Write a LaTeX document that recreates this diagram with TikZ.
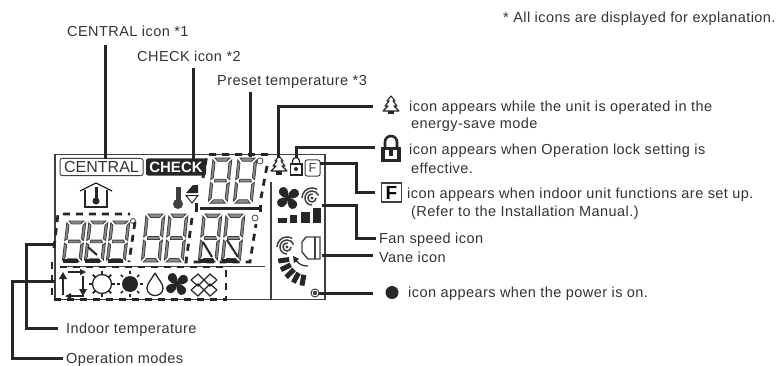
\documentclass[tikz,border=0pt]{standalone}
\usepackage{fontspec}
\setmainfont{Liberation Sans}
\newfontfamily\labfont[LetterSpace=3]{Liberation Sans}
\usetikzlibrary{calc}
\definecolor{Ink}{HTML}{262626}
\definecolor{Seg}{HTML}{404040}
\definecolor{Txt}{HTML}{333333}
\tikzset{
    x=1pt, y=-1pt,
    lab/.style={anchor=base west, inner sep=0pt, text=Txt, font=\labfont\fontsize{14.5}{16}\selectfont},
    conn/.style={line width=3pt, color=Ink, line cap=butt, line join=miter},
    lcdframe/.style={line width=1.3pt, color=Seg},
    lcddash/.style={line width=2.8pt, color=Ink, dash pattern=on 7pt off 6pt},
    icon/.style={line width=1pt, color=Ink},
    segdigit/.pic={
        \begin{scope}[xslant=0.1, draw=Seg, fill=Seg!60, line width=0.8pt]
            \filldraw (3,0) -- (18,0) -- (15,3.5) -- (6,3.5) -- cycle;
            \filldraw (5,22.5) -- (16,22.5) -- (17,25.5) -- (5,25.5) -- cycle;
            \filldraw (1,2) -- (3.5,5) -- (3.5,21) -- (1,23) -- cycle;
            \filldraw (20,2) -- (17.5,5) -- (17.5,21) -- (20,23) -- cycle;
            \filldraw (1,26) -- (3.5,28) -- (3.5,43) -- (1,46) -- cycle;
            \filldraw (20,26) -- (17.5,28) -- (17.5,43) -- (20,46) -- cycle;
            \filldraw (6,44.5) -- (15,44.5) -- (18,48) -- (3,48) -- cycle;
        \end{scope}
    },
    fanicon/.pic={
        \foreach \r in {30,120,210,300} {
            \fill[Ink, rotate=\r] (0,0) .. controls (-7,-4) and (-7,-12) .. (-1,-12.5) .. controls (5,-12.5) and (5,-5) .. (0,0);
        }
    },
    swirlicon/.pic={
        \fill[Seg] (0,0) circle[radius=1.6];
        \draw[line width=1.5pt, color=Seg] (4,0) arc[start angle=0, end angle=280, radius=4];
        \draw[line width=1.5pt, color=Seg] (0,7) arc[start angle=90, end angle=340, radius=7];
        \draw[line width=1.5pt, color=Seg] (-10,0) arc[start angle=180, end angle=300, radius=10];
    },
    treeicon/.pic={
        \draw[line width=1.1pt, color=Ink, line join=round] (0,-9) -- (4,-4) -- (2,-4) -- (6,1) -- (3,1) -- (8,6) -- (-8,6) -- (-3,1) -- (-6,1) -- (-2,-4) -- (-4,-4) -- cycle;
        \fill[Ink] (-3,6) rectangle (3,9.5);
    },
}
\begin{document}
\begin{tikzpicture}
    \useasboundingbox (0,0) rectangle (778,366);
    % labels
    \node[lab] (noteAll) at (503,23) {* All icons are displayed for explanation.};
    \node[lab] (centralLab) at (67,37) {CENTRAL icon *1};
    \node[lab] (checkLab) at (137,62) {CHECK icon *2};
    \node[lab] (presetLab) at (217,86) {Preset temperature *3};
    \node[lab] (treeLab) at (409,112) {icon appears while the unit is operated in the};
    \node[lab] (treeLabB) at (411,129) {energy-save mode};
    \node[lab] (lockLab) at (409,154) {icon appears when Operation lock setting is};
    \node[lab] (lockLabB) at (411,173) {effective.};
    \node[lab] (fLab) at (407,198) {icon appears when indoor unit functions are set up.};
    \node[lab] (fLabB) at (411,216) {(Refer to the Installation Manual.)};
    \node[lab] (fanLab) at (379,243) {Fan speed icon};
    \node[lab] (vaneLab) at (379,262) {Vane icon};
    \node[lab] (powerLab) at (408,297) {icon appears when the power is on.};
    \node[lab] (indoorLab) at (66,333) {Indoor temperature};
    \node[lab] (modesLab) at (66,363) {Operation modes};

    % lcd frame
    \draw[lcdframe] (55,154.5) rectangle (325,299.5);
    \draw[line width=1.8pt, color=Seg] (271,182) -- (271,299);
    \draw[line width=1pt, color=Seg] (60,266) -- (265,266);

    % CENTRAL, CHECK
    \node[draw=Seg, line width=1pt, rounded corners=2pt, minimum width=83pt, minimum height=17pt, inner sep=0pt, text=Txt, font=\fontsize{16}{16}\selectfont] (centralBox) at (101.5,167) {CENTRAL};
    \node[fill=Ink, rounded corners=2pt, minimum width=60pt, minimum height=17pt, inner sep=0pt, text=white, font=\bfseries\fontsize{15}{15}\selectfont] (checkBox) at (176,167) {CHECK};

    % digits
    \foreach \dx in {212,237} {
        \pic[yscale=0.94] at (\dx,158) {segdigit};
    }
    \foreach \dx in {66,88,110} {
        \pic[yscale=0.85] at (\dx,221) {segdigit};
    }
    \foreach \dx in {145,168,202,225} {
        \pic at (\dx,214) {segdigit};
    }
    \foreach \dx in {63,85,108,199,222} {
        \fill[Ink] (\dx,258.5) rectangle ++(15,4);
    }
    \draw[Ink, line width=2pt] (88,247) -- (97,255) (203,242) -- (212,257) (227,240) -- (238,257);
    \draw[conn] (200,208) -- (260,208) (260,205) -- (260,212);
    \draw[color=Seg, line width=0.8pt] (260,161) circle[radius=3];
    \draw[color=Seg, line width=0.8pt] (133,221) circle[radius=2.5];
    \draw[color=Seg, line width=0.8pt] (255,218) circle[radius=3];

    % dashed groups
    \draw[lcddash] (203,178) -- (207,154.5) -- (268,154.5);
    \draw[lcddash] (267,166) -- (261,198);
    \draw[lcddash] (54,248) -- (58,214) -- (130,214);
    \draw[lcddash] (135,222) -- (129,262);
    \draw[lcddash] (192,218) -- (186,262) -- (250,262) -- (256,224);
    \draw[lcddash] (52,262) -- (52,299.5) -- (226,299.5) -- (226,267) -- (60,267);

    % house
    \draw[icon, line width=1.3pt] (80,191) -- (96,183) -- (112,191);
    \draw[icon, line width=1.3pt] (85,190) -- (85,207) -- (107,207) -- (107,190);
    \fill[Ink] (94.5,187) rectangle (97.5,200);
    \fill[Ink] (96,201) circle[radius=3.5];

    % set temperature
    \fill[Seg] (175.5,187) rectangle (180.5,203);
    \fill[Seg] (178,204) circle[radius=5];
    \fill[Ink] (186,193) -- (193,185) -- (198,185) -- (198,193) -- cycle;
    \draw[Ink, line width=1pt] (186,195.5) -- (198,195.5) -- (192,203) -- cycle;
    \fill[Ink] (194.5,203) rectangle (198,212);

    % top icons
    \pic at (279,165) {treeicon};
    \draw[icon, line width=1.2pt] (290.5,164) rectangle (302,175);
    \draw[icon, line width=1.2pt] (292.5,164) -- (292.5,161) arc[start angle=180, end angle=360, radius=3.5] -- (299.5,164);
    \fill[Ink] (296,169) circle[radius=2];
    \node[draw=Seg, line width=1pt, rounded corners=2pt, minimum width=15pt, minimum height=16pt, inner sep=0pt, text=Seg, font=\fontsize{13}{13}\selectfont] (fBox) at (312.5,168) {F};

    % fan and speed bars
    \pic at (288,198) {fanicon};
    \pic at (312,198) {swirlicon};
    \fill[Ink] (278,218) -- (287,218) -- (287,223) -- (278,223) -- cycle;
    \fill[Ink] (290,215) rectangle (297,223);
    \fill[Ink] (301,212) rectangle (310,223);
    \fill[Ink] (313,208) rectangle (321,223);

    % vane
    \pic at (287,247) {swirlicon};
    \draw[line width=1.4pt, color=Seg] (320,237) -- (306,237) -- (302,242) -- (302,252) -- (308,259) -- (320,259) -- cycle;
    \draw[line width=1.4pt, color=Seg] (315,237) -- (315,259);
    \foreach \ang in {100,118,136,154,172} {
        \draw[line width=5pt, color=Ink] ($(307,257)+(\ang:18)$) -- ($(307,257)+(\ang:29)$);
    }
    \draw[icon, line width=1.2pt] (295,259) .. controls (299,265) and (303,266) .. (308,266);
    \fill[Ink] (293,256) -- (299,259) -- (294,263) -- cycle;

    % power lamp
    \draw[color=Seg, line width=1pt] (315,293) circle[radius=4];
    \fill[Seg] (315,293) circle[radius=2.2];

    % mode icons
    \draw[icon, line width=1.4pt] (63,295) -- (63,278);
    \fill[Ink] (63,272) -- (59,279) -- (67,279) -- cycle;
    \draw[icon, line width=1.2pt] (68,272) -- (82,272);
    \fill[Ink] (86,272) -- (80,269) -- (80,275) -- cycle;
    \draw[icon, line width=1.4pt] (83,276) -- (83,290);
    \fill[Ink] (83,296) -- (79,289) -- (87,289) -- cycle;
    \draw[icon, line width=1.2pt] (70,296) -- (84,296);
    \fill[Ink] (65,296) -- (71,293) -- (71,299) -- cycle;
    \draw[icon, line width=1.3pt] (102,284) circle[radius=9.5];
    \foreach \ang in {0,45,...,315} {
        \draw[icon, line width=2pt] ($(102,284)+(\ang:9)$) -- ($(102,284)+(\ang:13)$);
    }
    \fill[Ink] (130,284) circle[radius=8];
    \foreach \ang in {0,45,...,315} {
        \draw[icon, line width=1.5pt] ($(130,284)+(\ang:10)$) -- ($(130,284)+(\ang:13)$);
    }
    \draw[icon, line width=1.3pt] (155,273) .. controls (151,280) and (147,284) .. (147,288) .. controls (147,298) and (163,298) .. (163,288) .. controls (163,284) and (159,280) .. (155,273);
    \pic at (177,284) {fanicon};
    \foreach \dy in {-5,5} {
        \draw[icon, line width=1.2pt] (191,285+\dy) -- (198,279+\dy) -- (204,285+\dy) -- (210,279+\dy) -- (217,285+\dy);
        \draw[icon, line width=1.2pt] (191,285-\dy) -- (198,291-\dy) -- (204,285-\dy) -- (210,291-\dy) -- (217,285-\dy);
    }

    % legend icons
    \pic at (391,105) {treeicon};
    \draw[icon, line width=2.6pt] (385,148) -- (385,142) arc[start angle=180, end angle=360, radius=6] -- (397,148);
    \fill[Ink] (381,147) rectangle (401,162);
    \fill[white] (385,150) rectangle (397,159);
    \fill[Ink] (389,150) rectangle (393,156);
    \node[draw=Seg, line width=1.1pt, minimum width=20pt, minimum height=19pt, inner sep=0pt, text=black, font=\bfseries\fontsize{19}{19}\selectfont] (fIcon) at (391.5,192.5) {F};
    \node[circle, fill=Ink, minimum size=13pt, inner sep=0pt] (powerDot) at (392,292.5) {};

    % connectors
    \coordinate (centralTop) at (105,45);
    \coordinate (centralEnd) at (105,159);
    \coordinate (checkTop) at (193,68);
    \coordinate (checkEnd) at (193,159);
    \coordinate (presetTop) at (250,92);
    \coordinate (presetEnd) at (250,157);
    \coordinate (treeEnd) at (278,158);
    \coordinate (treeOut) at (373,107);
    \coordinate (lockEnd) at (296,158);
    \coordinate (lockOut) at (375,148);
    \coordinate (fStart) at (320,164);
    \coordinate (fElbow) at (356,164);
    \coordinate (fOut) at (375,192);
    \coordinate (fanStart) at (322,205);
    \coordinate (fanElbow) at (356,205);
    \coordinate (fanOut) at (376,238);
    \coordinate (vaneStart) at (322,255.5);
    \coordinate (vaneOut) at (373,255.5);
    \coordinate (powerStart) at (319,293);
    \coordinate (powerOut) at (373,293);
    \coordinate (indoorStart) at (55,244);
    \coordinate (indoorElbow) at (26,244);
    \coordinate (indoorOut) at (58,328);
    \coordinate (modesStart) at (55,281);
    \coordinate (modesElbow) at (12,281);
    \coordinate (modesOut) at (63,358);
    \draw[conn] (centralTop) -- (centralEnd);
    \draw[conn] (checkTop) -- (checkEnd);
    \draw[conn] (presetTop) -- (presetEnd);
    \draw[conn] (treeOut) -| (treeEnd);
    \draw[conn] (lockOut) -| (lockEnd);
    \draw[conn] (fStart) -- (fElbow) |- (fOut);
    \draw[conn] (fanStart) -- (fanElbow) |- (fanOut);
    \draw[conn] (vaneStart) -- (vaneOut);
    \draw[conn] (powerStart) -- (powerOut);
    \draw[conn] (indoorStart) -- (indoorElbow) |- (indoorOut);
    \draw[conn] (modesStart) -- (modesElbow) |- (modesOut);
\end{tikzpicture}
\end{document}
